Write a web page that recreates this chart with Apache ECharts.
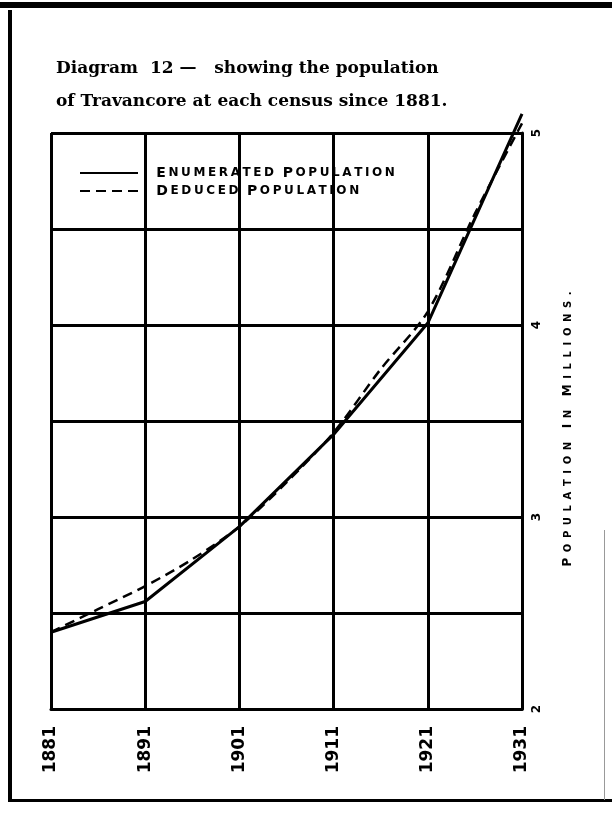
<!DOCTYPE html>
<html>
<head>
<meta charset="utf-8">
<title>Diagram 12 - population of Travancore</title>
<script src="https://cdn.jsdelivr.net/npm/echarts@6/dist/echarts.min.js"></script>
<style>
  html, body { margin: 0; padding: 0; background: #fff; }
  #main { width: 612px; height: 817px; }
</style>
</head>
<body>
<div id="main"></div>
<script>
// years along the bottom (5 year steps so the deduced curve can bend between censuses)
var years = ['1881', '1886', '1891', '1896', '1901', '1906', '1911', '1916', '1921', '1926', '1931']
// enumerated population in millions, census years only
var enumerated = [2.40, null, 2.56, null, 2.95, null, 3.43, null, 4.01, null, 5.10]
// deduced population in millions
var deduced = [2.40, 2.52, 2.64, 2.78, 2.95, 3.18, 3.44, 3.77, 4.07, 4.58, 5.05]
// labelled ticks on the right hand axis
var yLabels = [2, 3, 4, 5]

// small caps with wide spacing, one rich token per letter
function smallCaps(str) {
  var out = ''
  var first = true
  for (var i = 0; i < str.length; i++) {
    var ch = str[i]
    if (ch === ' ') {
      out += '{sp|}'
      first = true
    } else {
      out += (first ? '{b|' : '{s|') + ch + '}'
      first = false
    }
  }
  return out
}

var capsRich = {
  b: { fontFamily: 'DejaVu Sans', fontWeight: 'bold', fontSize: 14, color: '#000', padding: [0, 1.3] },
  s: { fontFamily: 'DejaVu Sans', fontWeight: 'bold', fontSize: 12, color: '#000', padding: [0, 1.3] },
  sp: { width: 6 },
  g: { width: 12 }
}
var nameRich = {
  b: { fontFamily: 'DejaVu Sans', fontWeight: 'bold', fontSize: 12, color: '#000', padding: [0, 2.8] },
  s: { fontFamily: 'DejaVu Sans', fontWeight: 'bold', fontSize: 10, color: '#000', padding: [0, 2.8] },
  sp: { width: 8 }
}

var myChart = echarts.init(document.getElementById('main'))
var option = {
  backgroundColor: '#fff',
  animation: false,
  color: ['#000', '#000'],
  title: {
    text: 'Diagram  12 \u2014   showing the population\nof Travancore at each census since 1881.',
    left: 51,
    top: 47,
    textStyle: {
      fontFamily: 'DejaVu Serif',
      fontWeight: 'bold',
      fontSize: 17,
      lineHeight: 33,
      color: '#000'
    }
  },
  legend: {
    left: 74,
    top: 161,
    orient: 'vertical',
    itemWidth: 58,
    itemHeight: 12,
    itemGap: 4,
    data: ['Enumerated Population', 'Deduced Population'],
    itemStyle: { opacity: 0 },
    formatter: function (name) {
      return '{g|}' + smallCaps(name.toUpperCase())
    },
    textStyle: { rich: capsRich }
  },
  grid: {
    left: 51,
    right: 90,
    top: 133,
    bottom: 108
  },
  xAxis: {
    type: 'category',
    data: years,
    boundaryGap: false,
    axisLine: { lineStyle: { color: '#000', width: 3 } },
    axisTick: { show: false },
    axisLabel: {
      interval: 1,
      rotate: 90,
      margin: 17,
      color: '#000',
      fontFamily: 'DejaVu Sans',
      fontWeight: 'bold',
      fontSize: 17
    },
    splitLine: {
      show: true,
      interval: 1,
      lineStyle: { color: '#000', width: 3 }
    }
  },
  yAxis: {
    type: 'value',
    position: 'right',
    min: 2,
    max: 5,
    interval: 0.5,
    axisLine: { show: true, lineStyle: { color: '#000', width: 3 } },
    axisTick: { show: false },
    axisLabel: {
      rotate: 90,
      margin: 9,
      color: '#000',
      fontFamily: 'DejaVu Sans',
      fontWeight: 'bold',
      fontSize: 12,
      formatter: function (v) {
        return yLabels.indexOf(v) >= 0 ? String(v) : ''
      }
    },
    splitLine: { lineStyle: { color: '#000', width: 3 } },
    name: smallCaps('POPULATION IN MILLIONS.'),
    nameLocation: 'middle',
    nameRotate: 90,
    nameGap: 40,
    nameTextStyle: { rich: nameRich, padding: [0, 16, 0, 0] }
  },
  series: [
    {
      name: 'Enumerated Population',
      type: 'line',
      data: enumerated,
      connectNulls: true,
      clip: false,
      symbol: 'none',
      itemStyle: { color: '#000' },
      lineStyle: { color: '#000', width: 3 },
      z: 3
    },
    {
      name: 'Deduced Population',
      type: 'line',
      data: deduced,
      smooth: 0.3,
      clip: false,
      symbol: 'none',
      itemStyle: { color: '#000' },
      lineStyle: { color: '#000', width: 2.5, type: [10, 6] },
      z: 2
    }
  ],
  // page frame of the scanned plate
  graphic: [
    { type: 'rect', shape: { x: 0, y: 2, width: 612, height: 6 }, style: { fill: '#000' } },
    { type: 'rect', shape: { x: 8, y: 10, width: 4, height: 792 }, style: { fill: '#000' } },
    { type: 'rect', shape: { x: 8, y: 799, width: 604, height: 3 }, style: { fill: '#000' } },
    { type: 'rect', shape: { x: 604, y: 530, width: 1, height: 270 }, style: { fill: '#999' } }
  ]
}
myChart.setOption(option)
</script>
</body>
</html>
